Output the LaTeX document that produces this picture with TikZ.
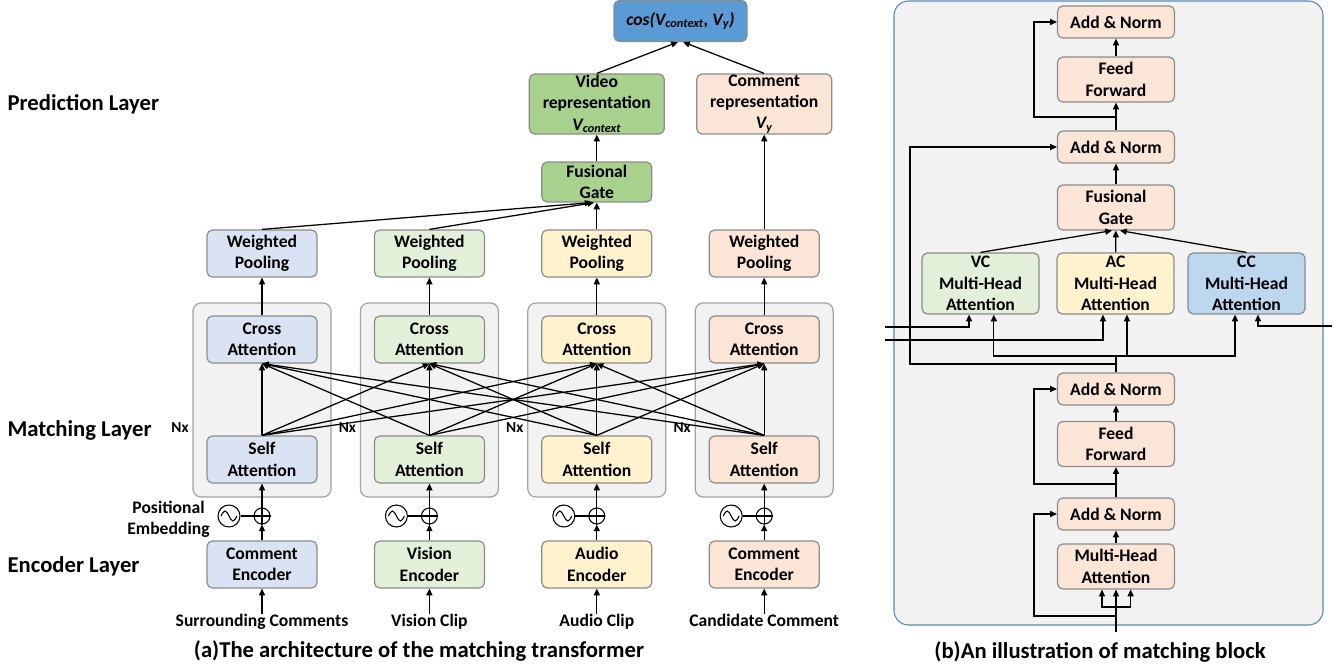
\documentclass[tikz,border=0pt]{standalone}
\usepackage{fontspec}
\setmainfont{Carlito}
\usepackage{tikz}
\usetikzlibrary{arrows.meta}

\definecolor{lblue}{HTML}{DAE3F3}
\definecolor{lgreen}{HTML}{E2F0D9}
\definecolor{lyellow}{HTML}{FFF2CC}
\definecolor{lpeach}{HTML}{FBE5D6}
\definecolor{mgreen}{HTML}{A9D18E}
\definecolor{cosblue}{HTML}{5B9BD5}
\definecolor{ccblue}{HTML}{BDD7EE}
\definecolor{bggray}{HTML}{F2F2F2}
\definecolor{boxline}{HTML}{8C8C8C}
\definecolor{panelline}{HTML}{5B87BD}

\begin{document}
\begin{tikzpicture}[x=0.75pt,y=-0.75pt,line width=0.95pt,
  >={Triangle[length=5pt,width=4.5pt]},
  wbox/.style={draw=boxline,line width=0.9pt,rounded corners=4pt,align=center,inner sep=0pt,
    font=\bfseries\fontsize{13.2}{16}\selectfont,minimum width=82.5pt,minimum height=35.25pt},
  rbox/.style={wbox,minimum width=101.25pt,minimum height=45pt},
  mbox/.style={wbox,fill=lpeach,minimum width=87.75pt,minimum height=24pt},
  graybox/.style={draw=boxline!80,fill=bggray,line width=0.9pt,rounded corners=6pt,
    minimum width=103.5pt,minimum height=145.5pt},
  plusc/.style={circle,draw,line width=0.8pt,minimum size=12pt,inner sep=0pt},
  sinec/.style={circle,draw,line width=0.8pt,minimum size=16.5pt,inner sep=0pt},
  txt/.style={font=\bfseries\fontsize{13.2}{16}\selectfont,align=center,inner sep=1pt},
  nxl/.style={font=\bfseries\fontsize{11.5}{13}\selectfont,inner sep=0pt},
  lbl/.style={font=\bfseries\fontsize{17}{20}\selectfont,inner sep=0pt}]

\useasboundingbox (0,0) rectangle (1341,670);

% layer names
\node[lbl,anchor=west] (lp) at (7,104) {Prediction Layer};
\node[lbl,anchor=west] (lm) at (7,430) {Matching Layer};
\node[lbl,anchor=west] (le) at (7,566) {Encoder Layer};

% Nx blocks
\node[graybox] (g1) at (262,400) {};
\node[graybox] (g2) at (429.4,400) {};
\node[graybox] (g3) at (596.8,400) {};
\node[graybox] (g4) at (764.2,400) {};
\node[nxl] (nx1) at (180,428) {Nx};
\node[nxl] (nx2) at (347.4,428) {Nx};
\node[nxl] (nx3) at (514.8,428) {Nx};
\node[nxl] (nx4) at (682.2,428) {Nx};

\node[wbox,fill=lblue] (wp1) at (262,253.5) {Weighted\\Pooling};
\node[wbox,fill=lblue] (ca1) at (262,339.5) {Cross\\Attention};
\node[wbox,fill=lblue] (sa1) at (262,459.5) {Self\\Attention};
\node[wbox,fill=lblue] (en1) at (262,564.5) {Comment\\Encoder};

\node[wbox,fill=lgreen] (wp2) at (429.4,253.5) {Weighted\\Pooling};
\node[wbox,fill=lgreen] (ca2) at (429.4,339.5) {Cross\\Attention};
\node[wbox,fill=lgreen] (sa2) at (429.4,459.5) {Self\\Attention};
\node[wbox,fill=lgreen] (en2) at (429.4,564.5) {Vision\\Encoder};

\node[wbox,fill=lyellow] (wp3) at (596.8,253.5) {Weighted\\Pooling};
\node[wbox,fill=lyellow] (ca3) at (596.8,339.5) {Cross\\Attention};
\node[wbox,fill=lyellow] (sa3) at (596.8,459.5) {Self\\Attention};
\node[wbox,fill=lyellow] (en3) at (596.8,564.5) {Audio\\Encoder};

\node[wbox,fill=lpeach] (wp4) at (764.2,253.5) {Weighted\\Pooling};
\node[wbox,fill=lpeach] (ca4) at (764.2,339.5) {Cross\\Attention};
\node[wbox,fill=lpeach] (sa4) at (764.2,459.5) {Self\\Attention};
\node[wbox,fill=lpeach] (en4) at (764.2,564.5) {Comment\\Encoder};

% positional embedding
\node[txt] (pe) at (168.5,519.5) {Positional\\Embedding};
\node[plusc] (pl1) at (262,516) {};
\node[sinec] (sn1) at (229,516) {};
\node[plusc] (pl2) at (429.4,516) {};
\node[sinec] (sn2) at (396.4,516) {};
\node[plusc] (pl3) at (596.8,516) {};
\node[sinec] (sn3) at (563.8,516) {};
\node[plusc] (pl4) at (764.2,516) {};
\node[sinec] (sn4) at (731.2,516) {};
\draw[line width=0.8pt] (pl1.west) -- (pl1.east) (pl2.west) -- (pl2.east)
  (pl3.west) -- (pl3.east) (pl4.west) -- (pl4.east);
\draw[line width=0.8pt] (221,516) sin (225,511) cos (229,516) sin (233,521) cos (237,516);
\draw[line width=0.8pt] (388.4,516) sin (392.4,511) cos (396.4,516) sin (400.4,521) cos (404.4,516);
\draw[line width=0.8pt] (555.8,516) sin (559.8,511) cos (563.8,516) sin (567.8,521) cos (571.8,516);
\draw[line width=0.8pt] (723.2,516) sin (727.2,511) cos (731.2,516) sin (735.2,521) cos (739.2,516);
\draw[line width=0.8pt] (sn1) -- (pl1) (sn2) -- (pl2) (sn3) -- (pl3) (sn4) -- (pl4);

% inputs
\node[txt,anchor=base] (in1) at (262,626) {Surrounding Comments};
\node[txt,anchor=base] (in2) at (429.4,626) {Vision Clip};
\node[txt,anchor=base] (in3) at (596.8,626) {Audio Clip};
\node[txt,anchor=base] (in4) at (764.2,626) {Candidate Comment};

% prediction layer
\node[wbox,fill=mgreen,minimum height=30pt] (fg) at (596.8,182) {Fusional\\Gate};
\node[rbox,fill=mgreen] (vr) at (596.8,104) {Video\\representation\\{\itshape V\textsubscript{context}}};
\node[rbox,fill=lpeach] (cr) at (764.2,104) {Comment\\representation\\{\itshape V\textsubscript{y}}};
\node[wbox,fill=cosblue,minimum width=99.75pt,minimum height=30.75pt] (cs) at (680.5,21)
  {\itshape cos(V\textsubscript{context}, V\textsubscript{y})};

\draw[->] ([yshift=-2pt]in1.north) -- (en1);
\draw[->] ([yshift=-2pt]in2.north) -- (en2);
\draw[->] ([yshift=-2pt]in3.north) -- (en3);
\draw[->] ([yshift=-2pt]in4.north) -- (en4);
\draw[->] (en1) -- (pl1);
\draw[->] (en2) -- (pl2);
\draw[->] (en3) -- (pl3);
\draw[->] (en4) -- (pl4);
\draw[->] (pl1.south) -- (sa1);
\draw[->] (pl2.south) -- (sa2);
\draw[->] (pl3.south) -- (sa3);
\draw[->] (pl4.south) -- (sa4);

% self -> cross, every pair
\draw[->] (sa1.north) -- (ca1.south);
\draw[->] (sa1.north) -- (ca2.south);
\draw[->] (sa1.north) -- (ca3.south);
\draw[->] (sa1.north) -- (ca4.south);
\draw[->] (sa2.north) -- (ca1.south);
\draw[->] (sa2.north) -- (ca2.south);
\draw[->] (sa2.north) -- (ca3.south);
\draw[->] (sa2.north) -- (ca4.south);
\draw[->] (sa3.north) -- (ca1.south);
\draw[->] (sa3.north) -- (ca2.south);
\draw[->] (sa3.north) -- (ca3.south);
\draw[->] (sa3.north) -- (ca4.south);
\draw[->] (sa4.north) -- (ca1.south);
\draw[->] (sa4.north) -- (ca2.south);
\draw[->] (sa4.north) -- (ca3.south);
\draw[->] (sa4.north) -- (ca4.south);

\draw[->] (ca1) -- (wp1);
\draw[->] (ca2) -- (wp2);
\draw[->] (ca3) -- (wp3);
\draw[->] (ca4) -- (wp4);
\draw[->] (wp1.north) -- ([xshift=-4pt]fg.south);
\draw[->] (wp2.north) -- ([xshift=-2pt]fg.south);
\draw[->] (wp3) -- (fg);
\draw[->] (wp4) -- (cr);
\draw[->] (fg) -- (vr);
\draw[->] (vr.north) -- ([xshift=-2pt]cs.south);
\draw[->] (cr.north) -- ([xshift=2pt]cs.south);

\node[lbl] (capa) at (419,651) {(a)The architecture of the matching transformer};

% matching block
\draw[draw=panelline,fill=bggray,line width=0.8pt,rounded corners=11pt] (894,1) rectangle (1323,625);

\node[mbox] (an1) at (1116,22) {Add \& Norm};
\node[mbox,minimum height=33.75pt] (ff1) at (1116,79.5) {Feed\\Forward};
\node[mbox] (an2) at (1116,147) {Add \& Norm};
\node[mbox,minimum height=33.75pt] (fg2) at (1116,207.5) {Fusional\\Gate};
\node[mbox,fill=lgreen,minimum height=45.75pt] (vc) at (980.5,283.5) {VC\\Multi-Head\\Attention};
\node[mbox,fill=lyellow,minimum height=45.75pt] (ac) at (1115.5,283.5) {AC\\Multi-Head\\Attention};
\node[mbox,fill=ccblue,minimum height=45.75pt] (cc) at (1246.5,283.5) {CC\\Multi-Head\\Attention};
\node[mbox] (an3) at (1116,389) {Add \& Norm};
\node[mbox,minimum height=33.75pt] (ff2) at (1116,444) {Feed\\Forward};
\node[mbox] (an4) at (1116,514) {Add \& Norm};
\node[mbox,minimum height=33.75pt] (mh) at (1116,566.5) {Multi-Head\\Attention};

\coordinate (bin) at (1116,632);
\coordinate (bsp) at (1116,607);
\coordinate (r1) at (1116,616);
\coordinate (r2) at (1116,484);
\coordinate (j2) at (1116,364);
\coordinate (j1) at (1116,356);
\coordinate (r3) at (1116,117);
\coordinate (xv) at (885,327);
\coordinate (xa) at (885,340);
\coordinate (xc) at (1332,326);

\draw (bin) -- (bsp);
\draw[->] (bsp) -| ([xshift=-10.5pt]mh.south);
\draw[->] (bsp) -- (mh.south);
\draw[->] (bsp) -| ([xshift=11pt]mh.south);
\draw[->] (r1) -| ([xshift=-17.25pt]an4.west) -- (an4.west);
\draw[->] (mh) -- (an4);
\draw[->] (an4) -- (ff2);
\draw[->] (r2) -| ([xshift=-17.25pt]an3.west) -- (an3.west);
\draw[->] (ff2) -- (an3);
\draw (an3.north) -- (j1);
\draw[->] (j2) -| ([xshift=-110.25pt]an2.west) -- (an2.west);
\draw[->] (j1) -| ([xshift=10pt]vc.south);
\draw[->] (j1) -| ([xshift=8.6pt]ac.south);
\draw[->] (j1) -| ([xshift=-8.6pt]cc.south);
\draw[->] (xv) -| ([xshift=-8.6pt]vc.south);
\draw[->] (xa) -| ([xshift=-9.4pt]ac.south);
\draw[->] (xc) -| ([xshift=8.6pt]cc.south);
\draw[->] (vc.north) -- ([xshift=-3pt]fg2.south);
\draw[->] (ac) -- (fg2);
\draw[->] (cc.north) -- ([xshift=3pt]fg2.south);
\draw[->] (fg2) -- (an2);
\draw[->] (an2) -- (ff1);
\draw[->] (r3) -| ([xshift=-17.25pt]an1.west) -- (an1.west);
\draw[->] (ff1) -- (an1);

\node[lbl] (capb) at (1100,652) {(b)An illustration of matching block};
\end{tikzpicture}
\end{document}
